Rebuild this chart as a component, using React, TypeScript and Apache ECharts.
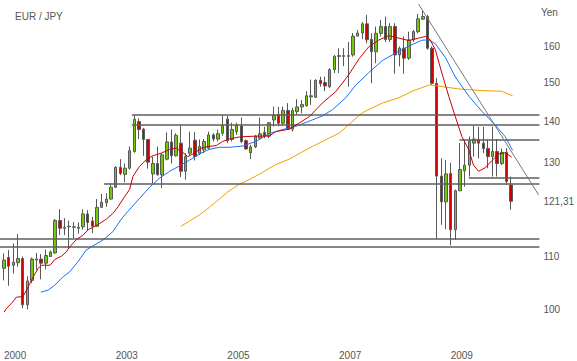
import React, { useEffect, useRef } from "react";
import * as echarts from "echarts";

// Monthly EUR/JPY candles (index 0 = first month shown)
const opens = [107.6,109.7,108.2,108.7,109.5,100.8,105.3,109.2,109.4,108.6,109.9,110.6,117.2,115.6,115.9,115.8,115.6,115.9,118.6,117.1,116.0,120.0,121.0,121.8,124.4,128.9,127.3,128.7,132.6,139.9,138.0,135.5,127.4,129.8,127.2,130.8,134.9,131.6,134.6,128.0,132.2,135.3,132.2,133.0,133.4,136.6,135.6,137.0,140.5,135.5,137.4,138.8,135.2,132.3,133.7,135.8,137.2,136.3,140.3,141.7,139.5,142.7,138.0,142.4,143.6,143.9,146.2,146.1,150.6,150.0,148.9,153.5,157.2,157.4,157.2,157.6,163.0,163.9,166.6,162.0,158.5,163.8,165.8,162.0,165.8,157.6,159.5,156.7,161.9,164.3,168.0,168.8,159.5,149.8,126.9,121.2,127.5,115.3,123.6,128.1,129.4,134.6,135.5,134.6,133.3,131.4,132.6,129.8,132.4,124.9];
const closes = [109.2,108.0,108.8,109.5,100.8,105.2,109.4,109.4,108.6,110.1,110.8,117.2,115.6,115.8,116.0,115.9,115.8,118.6,116.8,116.0,120.0,121.1,121.8,124.4,128.9,127.5,128.7,132.8,140.5,137.9,135.5,130.1,129.8,127.2,131.8,134.9,131.6,136.5,128.0,131.4,133.4,131.4,133.8,135.0,136.6,135.6,136.9,138.9,135.2,137.9,138.9,135.0,133.2,133.7,136.3,136.9,136.3,139.6,141.5,139.5,142.7,138.0,142.7,143.6,144.2,146.5,146.5,150.6,149.7,149.1,153.5,157.2,157.4,157.2,157.4,163.0,163.9,166.6,161.9,158.5,163.8,165.8,162.0,165.8,157.6,159.5,156.7,161.9,164.3,168.1,168.8,159.5,149.8,126.9,121.2,127.4,115.3,123.6,128.4,129.4,135.0,135.6,134.6,133.3,131.4,132.6,129.8,132.4,125.7,121.31];
const lows = [105.3,104.3,106.6,107.9,100.2,100.0,104.8,107.3,105.5,107.4,109.8,110.4,114.2,114.2,111.6,113.6,114.5,115.3,115.1,114.6,115.9,119.9,120.1,121.6,124.2,127.1,125.5,128.4,132.3,135.6,131.6,128.6,125.3,127.0,124.2,130.5,129.8,131.4,126.7,126.1,131.8,130.5,131.8,132.2,133.0,135.0,135.0,136.4,134.6,135.0,136.6,134.6,133.0,130.8,133.4,135.5,135.8,135.8,138.7,138.7,139.0,137.9,137.4,141.6,142.0,143.7,144.1,145.9,148.9,147.7,148.5,152.6,152.6,154.5,148.9,157.1,162.9,162.1,160.9,149.8,155.3,162.9,161.3,161.3,152.4,154.4,152.4,156.2,161.3,163.8,167.8,159.1,149.3,113.5,116.3,115.4,112.1,113.2,123.6,124.5,126.8,131.4,131.0,132.2,128.7,126.8,126.8,129.4,124.9,119.5];
const highs = [110.5,111.2,112.5,114.4,109.9,106.1,109.7,110.6,110.4,111.3,111.1,117.5,119.6,117.7,117.2,116.9,116.8,119.6,119.4,118.0,121.8,122.9,123.1,125.3,129.2,130.8,129.8,133.8,141.5,140.7,138.3,135.6,131.4,133.8,132.2,137.2,137.9,137.0,138.9,132.2,137.4,137.3,135.5,135.6,137.4,137.0,137.9,141.5,141.3,139.6,139.6,140.9,135.5,134.2,136.6,140.9,138.6,139.8,143.7,143.6,143.7,144.6,143.4,145.6,145.4,147.7,150.8,150.9,151.6,151.6,153.9,157.6,159.5,159.5,161.3,163.9,164.8,167.1,169.3,163.8,165.8,167.8,168.8,166.8,166.8,160.0,162.9,164.3,164.8,169.6,170.8,169.3,160.0,151.2,131.0,130.6,130.0,123.9,134.6,135.3,136.2,139.0,138.6,138.6,135.5,138.6,135.6,133.3,133.4,126.8];

// Moving averages: [month index, value]
const redMA = [[0,99.5],[0.6,100.2],[1.65,101.1],[2.7,102.2],[4.1,102.3],[5.2,104.1],[6.3,106.0],[7.35,107.6],[8.1,108.2],[9.9,108.2],[10.9,109.3],[12.4,110.0],[13.4,110.8],[14.1,111.8],[15.6,113.3],[17,114.2],[18.1,115.3],[19.1,115.8],[20.6,116.6],[22,117.5],[23.4,118.7],[24.5,120.1],[25.9,122.3],[27,123.9],[27.7,126.8],[29.1,129.1],[30.6,130.7],[32,131.6],[33.8,132.2],[35.6,133.1],[37,133.4],[38.4,132.4],[39.5,131.4],[40.9,132.2],[42.4,133.4],[43.8,133.8],[45.6,134.0],[47,135.0],[48.4,135.6],[50.6,136.1],[54.1,136.3],[57,136.3],[58.4,137.4],[61.3,138.0],[63.4,139.5],[65.6,141.1],[68.4,144.6],[71.3,147.6],[74.1,152.1],[76.3,156.5],[78.4,159.9],[80.6,161.9],[82.7,163.1],[84.9,162.4],[87,161.7],[89.1,162.4],[90.6,162.9],[91.6,161.9],[92.7,159.1],[94.1,152.6],[95.6,146.3],[97,141.1],[98.4,136.2],[99.9,133.0],[100.9,129.4],[102,128.0],[103.4,128.8],[104.8,130.4],[106.3,132.0],[107.7,132.3],[109.1,131.3]];
const blueMA = [[7.9,103.1],[9.5,103.5],[10.9,104.4],[12.7,106.0],[14.1,106.9],[15.9,108.9],[17.7,111.2],[19.1,112.0],[21.3,113.2],[23.4,114.9],[25.2,117.5],[26.6,119.1],[29.1,121.9],[31.3,124.4],[33.4,126.4],[35.6,128.0],[37.7,129.2],[39.9,130.6],[42,132.0],[44.1,133.1],[46.3,133.6],[48.4,133.6],[51.3,133.9],[54.1,135.0],[57,136.9],[59.8,137.9],[62.7,138.7],[65.6,140.0],[68.4,141.3],[70.6,142.9],[73.4,145.9],[75.6,149.3],[78.4,152.7],[81.3,156.0],[84.1,158.1],[87,160.1],[89.8,161.8],[91.3,161.9],[92.7,160.8],[94.9,156.8],[97,151.5],[99.9,146.4],[102.7,142.5],[105.6,139.0],[107.7,136.2],[109.3,132.9]];
const orangeMA = [[38,116.0],[39.9,117.1],[42,118.4],[43.5,119.5],[45.6,121.2],[48,123.3],[50.6,125.1],[52.7,126.1],[55.5,127.7],[58.3,129.5],[61.3,130.8],[64.9,133.0],[66.3,133.8],[69.1,135.4],[72,137.0],[73.4,138.4],[77,142.1],[81.3,144.6],[84.9,146.0],[87.7,147.7],[91.5,149.4],[94.9,148.8],[97.7,148.3],[102,147.9],[106.9,147.7],[109.3,146.5]];

// Support / resistance levels and where they start (month index)
const levelValues = [141.5, 139.0, 125.1, 113.5, 111.9, 135.4, 126.6];
const levelStarts = [27.5, 27.5, 21.5, -0.857, -0.857, 97.9, 99.9];
// Down-trend line: two points [month index, value]
const trendLine = [[89.1, 172.6], [114.9, 122.7]];

// Axis ticks
const xTickIndex = [0, 24, 48, 72, 96];
const xTickLabels = ["2000", "2003", "2005", "2007", "2009"];
const yTicks = [100, 110, 121.31, 130, 140, 150, 160];
const yTickLabels = ["100", "110", "121,31", "130", "140", "150", "160"];

const L = Math.log;
const X_MIN = -0.857;
const X_MAX = 115.07;
const Y_MIN = 4.54133;
const Y_MAX = 5.15828;
const FONT = "Liberation Sans";

export default function App() {
  const ref = useRef<HTMLDivElement>(null);
  useEffect(() => {
    document.body.style.margin = "0";
    const chart = echarts.init(ref.current!, null, { renderer: "svg" });
    const candles = opens.map((o, i) => [i, L(o), L(closes[i]), L(lows[i]), L(highs[i])]);
    const hl = levelValues.map((v, k) => [
      { coord: [levelStarts[k], L(v)] },
      { coord: [X_MAX, L(v)] },
    ]);
    const tl = [
      { coord: [trendLine[0][0], L(trendLine[0][1])], lineStyle: { color: "#777", width: 1 } },
      { coord: [trendLine[1][0], L(trendLine[1][1])] },
    ];
    const lineS = (d: number[][], color: string, z: number) => ({
      type: "line",
      data: d.map((p) => [p[0], L(p[1])]),
      showSymbol: false,
      silent: true,
      z,
      lineStyle: { color, width: 1 },
    });
    chart.setOption({
      animation: false,
      graphic: [
        { type: "text", left: 15, top: 11, style: { text: "EUR / JPY", fill: "#555", fontSize: 10, fontFamily: FONT } },
        { type: "text", left: 541, top: 7, style: { text: "Yen", fill: "#555", fontSize: 10, fontFamily: FONT } },
      ],
      grid: { left: 0, right: 36, top: 0, bottom: 16 },
      xAxis: {
        type: "value",
        min: X_MIN,
        max: X_MAX,
        axisLine: { show: false },
        axisTick: { show: false },
        splitLine: { show: false },
        axisLabel: {
          customValues: xTickIndex,
          formatter: (v: number) => {
            const k = xTickIndex.indexOf(Math.round(v));
            return k >= 0 ? xTickLabels[k] : "";
          },
          align: "left",
          margin: 5,
          color: "#555",
          fontSize: 10,
          fontFamily: FONT,
        },
      },
      yAxis: {
        type: "value",
        position: "right",
        min: Y_MIN,
        max: Y_MAX,
        axisLine: { show: false },
        axisTick: { show: false },
        splitLine: { show: false },
        axisLabel: {
          customValues: yTicks.map(L),
          formatter: (v: number) => {
            let best = 0;
            yTicks.forEach((t, j) => {
              if (Math.abs(L(t) - v) < Math.abs(L(yTicks[best]) - v)) best = j;
            });
            return yTickLabels[best];
          },
          margin: 4,
          color: "#555",
          fontSize: 10,
          fontFamily: FONT,
        },
      },
      series: [
        {
          type: "candlestick",
          data: candles,
          barWidth: 3,
          silent: true,
          z: 2,
          itemStyle: {
            color: "#70cc00",
            color0: "#d00000",
            borderColor: "#585858",
            borderColor0: "#585858",
            borderWidth: 1,
          },
          markLine: {
            silent: true,
            symbol: ["none", "none"],
            label: { show: false },
            lineStyle: { color: "#5e5e5e", width: 1.5, type: "solid" },
            data: [...hl, tl],
          },
        },
        lineS(orangeMA, "#f0a000", 3),
        lineS(blueMA, "#1a6fff", 4),
        lineS(redMA, "#cc0000", 5),
      ],
    } as any);
    return () => chart.dispose();
  }, []);
  return <div ref={ref} style={{ width: 577, height: 361 }} />;
}
